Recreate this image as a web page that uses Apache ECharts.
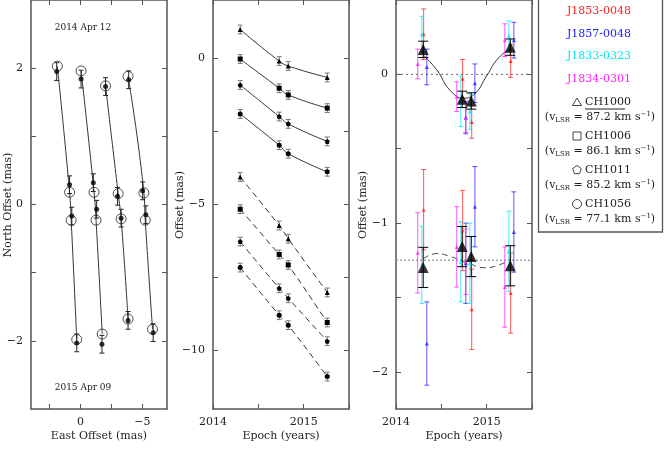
<!DOCTYPE html>
<html><head><meta charset="utf-8">
<script src="https://cdn.jsdelivr.net/npm/echarts@6/dist/echarts.min.js"></script>
<style>html,body{margin:0;padding:0;background:#fff}#c{width:664px;height:453px}</style>
</head><body><div id="c"></div>
<script>
// ---------- data ----------
const epochs = [2014.30, 2014.73, 2014.83, 2015.26];
// left panel: model (open circles) and measured (filled dots), [east, north]
const modelTracks = [
  [[1.87,2.03],[0.88,0.18],[0.75,-0.23],[0.30,-1.98]],
  [[-0.05,1.96],[-1.10,0.18],[-1.26,-0.23],[-1.76,-1.90]],
  [[-2.03,1.74],[-3.05,0.16],[-3.29,-0.21],[-3.85,-1.68]],
  [[-3.85,1.88],[-5.13,0.17],[-5.24,-0.23],[-5.83,-1.83]]
];
const measTracks = [
  [[1.92,1.95],[0.88,0.29],[0.70,-0.17],[0.30,-2.03]],
  [[-0.05,1.84],[-1.04,0.32],[-1.31,-0.07],[-1.74,-2.05]],
  [[-2.03,1.73],[-3.00,0.12],[-3.29,-0.20],[-3.85,-1.70]],
  [[-3.90,1.83],[-5.03,0.20],[-5.29,-0.15],[-5.88,-1.88]]
];
const measErr = 0.13;
// middle panel offsets (mas)
const solidOffsets = [
  [0.99,-0.09,-0.26,-0.65],
  [-0.02,-1.02,-1.25,-1.70],
  [-0.91,-1.99,-2.24,-2.84],
  [-1.90,-2.97,-3.26,-3.88]
];
const dashedOffsets = [
  [-4.06,-5.72,-6.17,-8.01],
  [-5.16,-6.71,-7.07,-9.04],
  [-6.27,-7.87,-8.21,-9.68],
  [-7.16,-8.79,-9.13,-10.89]
];
const midErr = 0.15;
// right panel
const qsoNames = ['J1853-0048','J1857-0048','J1833-0323','J1834-0301'];
const qsoColors = ['#ff2020','#2020ff','#00e8f0','#ff20ff'];
const qsoShift = [0.005, 0.04, -0.015, -0.06];
const qsoTop = [[0.27,-0.03,-0.32,0.09],[0.05,-0.29,-0.06,0.23],[0.27,-0.18,-0.25,0.26],[0.07,-0.15,-0.29,0.23]];
const qsoTopErr = [[0.17,0.13,0.11,0.11],[0.12,0.11,0.13,0.12],[0.12,0.17,0.12,0.10],[0.10,0.10,0.10,0.11]];
const qsoBot = [[-0.91,-1.05,-1.58,-1.47],[-1.81,-1.27,-0.89,-1.06],[-1.28,-1.26,-1.27,-1.19],[-1.20,-1.16,-1.26,-1.43]];
const qsoBotErr = [[0.27,0.27,0.27,0.27],[0.28,0.27,0.27,0.27],[0.26,0.27,0.27,0.27],[0.27,0.27,0.22,0.27]];
const avgTop = [0.168,-0.168,-0.179,0.183], avgTopErr = 0.055;
const avgBot = [-1.298,-1.158,-1.225,-1.287], avgBotErr = 0.135;
const modelTopCurve = [[2014.30,0.13],[2014.45,0.03],[2014.6,-0.11],[2014.75,-0.16],[2014.87,-0.13],[2015.0,-0.01],[2015.13,0.11],[2015.26,0.17]];
const modelBotCurve = [[2014.30,-1.24],[2014.45,-1.205],[2014.6,-1.225],[2014.8,-1.27],[2014.98,-1.30],[2015.12,-1.285],[2015.26,-1.245]];
const legendEntries = [['CH1000','87.2'],['CH1006','86.1'],['CH1011','85.2'],['CH1056','77.1']];

// ---------- helpers ----------
const FONT = 'DejaVu Serif';
function errSeries(data, xi, color, cap, lw, opacity) {
  return {type:'custom', xAxisIndex:xi, yAxisIndex:xi, data:data, z:3, silent:true,
    renderItem:function(p, api){
      const x=api.value(0), y=api.value(1), e=api.value(2);
      const a=api.coord([x,y+e]), b=api.coord([x,y-e]);
      const st={stroke:color, lineWidth:lw, opacity:opacity};
      return {type:'group', children:[
        {type:'line', shape:{x1:a[0],y1:a[1],x2:b[0],y2:b[1]}, style:st},
        {type:'line', shape:{x1:a[0]-cap,y1:a[1],x2:a[0]+cap,y2:a[1]}, style:st},
        {type:'line', shape:{x1:b[0]-cap,y1:b[1],x2:b[0]+cap,y2:b[1]}, style:st}]};
    }};
}
const axLine = {show:true, onZero:false, lineStyle:{color:'#555', width:1.5}};
function mkX(g, min, max, ticks, labels, inverse) {
  const base = {gridIndex:g, type:'value', min:min, max:max, inverse:!!inverse, axisLine:axLine, splitLine:{show:false},
    axisTick:{inside:true, length:5, lineStyle:{color:'#555'}, customValues:ticks}};
  return [Object.assign({}, base, {position:'bottom', axisLabel:{customValues:labels, fontFamily:FONT, fontSize:11, color:'#222', margin:8,
      formatter:v=>String(v).replace('-','\u2212')}}),
    Object.assign({}, base, {position:'top', axisLabel:{show:false}})];
}
function mkY(g, min, max, ticks, labels) {
  const base = {gridIndex:g, type:'value', min:min, max:max, axisLine:axLine, splitLine:{show:false},
    axisTick:{inside:true, length:5, lineStyle:{color:'#555'}, customValues:ticks}};
  return [Object.assign({}, base, {position:'left', axisLabel:{customValues:labels, fontFamily:FONT, fontSize:11, color:'#222', margin:8,
      formatter:v=>String(v).replace('-','\u2212')}}),
    Object.assign({}, base, {position:'right', axisLabel:{show:false}})];
}
const yrTicks=[2014,2014.5,2015,2015.5];
const xAxes = [].concat(
  mkX(0,-7,4,[2.5,0,-2.5,-5],[0,-5],true),
  mkX(1,2014,2015.5,yrTicks,[2014,2015]),
  mkX(2,2014,2015.5,yrTicks,[2014,2015]));
const yAxes = [].concat(
  mkY(0,-3,3,[-2,-1,0,1,2],[-2,0,2]),
  mkY(1,-12,2,[-10,-7.5,-5,-2.5,0],[-10,-5,0]),
  mkY(2,-2.25,0.5,[-2,-1.5,-1,-0.5,0],[-2,-1,0]));

const series = [];
// left panel
modelTracks.forEach(t=>{
  series.push({type:'line', xAxisIndex:0, yAxisIndex:0, data:t, smooth:true, symbol:'none',
    lineStyle:{color:'#333', width:1}, z:2});
  series.push({type:'scatter', xAxisIndex:0, yAxisIndex:0, data:t, symbol:'circle', symbolSize:10,
    itemStyle:{color:'rgba(0,0,0,0)', borderColor:'#222', borderWidth:1}, z:5});
});
measTracks.forEach(t=>{
  series.push(errSeries(t.map(p=>[p[0],p[1],measErr]),0,'#222',2.5,1,1));
  series.push({type:'scatter', xAxisIndex:0, yAxisIndex:0, data:t, symbol:'circle', symbolSize:5, itemStyle:{color:'#000'}, z:4});
});
// middle panel
const mids = ['triangle','rect','path://M0,-1L0.95,-0.31L0.59,0.81L-0.59,0.81L-0.95,-0.31Z','circle'];
[[solidOffsets,'solid'],[dashedOffsets,[6,4]]].forEach(([set,ls])=>{
  set.forEach((vals,i)=>{
    const d = vals.map((v,k)=>[epochs[k],v]);
    series.push(errSeries(d.map(p=>[p[0],p[1],midErr]),2,'#777',2.5,1,1));
    series.push({type:'line', xAxisIndex:2, yAxisIndex:2, data:d, smooth:true, symbol:mids[i], symbolSize:5,
      lineStyle:{color:'#333', width:1, type:ls}, itemStyle:{color:'#000'}, z:4});
  });
});
// right panel
series.push({type:'line', xAxisIndex:4, yAxisIndex:4, data:[[2014,0],[2015.5,0]], symbol:'none', lineStyle:{color:'#666', width:1, type:[2,3]}, z:1});
series.push({type:'line', xAxisIndex:4, yAxisIndex:4, data:[[2014,-1.25],[2015.5,-1.25]], symbol:'none', lineStyle:{color:'#999', width:1.3, type:[2,2]}, z:1});
series.push({type:'line', xAxisIndex:4, yAxisIndex:4, data:modelTopCurve, smooth:true, symbol:'none', lineStyle:{color:'#333', width:1}, z:2});
series.push({type:'line', xAxisIndex:4, yAxisIndex:4, data:modelBotCurve, smooth:true, symbol:'none', lineStyle:{color:'#444', width:1, type:[6,4]}, z:2});
for (let q=0;q<4;q++){
  const dt = epochs.map((e,k)=>[e+qsoShift[q], qsoTop[q][k], qsoTopErr[q][k]]);
  const db = epochs.map((e,k)=>[e+qsoShift[q], qsoBot[q][k], qsoBotErr[q][k]]);
  series.push(errSeries(dt.concat(db),4,qsoColors[q],2.5,1,0.75));
  series.push({type:'scatter', xAxisIndex:4, yAxisIndex:4, data:dt.concat(db).map(p=>[p[0],p[1]]), symbol:'triangle', symbolSize:4, itemStyle:{color:qsoColors[q]}, z:3});
}
const avgD = epochs.map((e,k)=>[e,avgTop[k],avgTopErr]).concat(epochs.map((e,k)=>[e,avgBot[k],avgBotErr]));
series.push(errSeries(avgD,4,'#000',5,1,1));
series.push({type:'scatter', xAxisIndex:4, yAxisIndex:4, data:avgD.map(p=>[p[0],p[1]]), symbol:'triangle', symbolSize:11, itemStyle:{color:'#000'}, z:6});

// graphics: titles, legend
const T = (x,y,text,opt)=>Object.assign({type:'text', x:x, y:y, style:Object.assign({text:text, font:'11px '+FONT, fill:'#222', align:'center', verticalAlign:'middle'}, opt||{})});
const graphic = [
  T(83,28,'2014 Apr 12',{font:'9px '+FONT}),
  T(83,388,'2015 Apr 09',{font:'9px '+FONT}),
  T(99,436,'East Offset (mas)'),
  T(281,436,'Epoch (years)'),
  T(464,436,'Epoch (years)'),
  Object.assign(T(0,0,'North Offset (mas)'),{x:8,y:205,rotation:Math.PI/2}),
  Object.assign(T(0,0,'Offset (mas)'),{x:180,y:205,rotation:Math.PI/2}),
  Object.assign(T(0,0,'Offset (mas)'),{x:363,y:205,rotation:Math.PI/2}),
  {type:'rect', shape:{x:538.5,y:-2,width:124,height:234}, style:{fill:'none', stroke:'#555', lineWidth:1.3}}
];
qsoNames.forEach((n,i)=>graphic.push(T(599,11+i*22.7,n,{fill:qsoColors[i], font:'11px '+FONT})));
const symShapes = [
  {type:'polygon', shape:{points:[[0,-4],[4.5,3.5],[-4.5,3.5]]}},
  {type:'rect', shape:{x:-4,y:-4,width:8,height:8}},
  {type:'polygon', shape:{points:[[0,-4.5],[4.3,-1.4],[2.6,3.6],[-2.6,3.6],[-4.3,-1.4]]}},
  {type:'circle', shape:{cx:0,cy:0,r:4.5}}
];
legendEntries.forEach((e,i)=>{
  const y0 = 102 + i*34;
  const s = Object.assign({}, symShapes[i], {x:577, y:y0, style:{fill:'none', stroke:'#444', lineWidth:1}});
  graphic.push(s);
  graphic.push(T(585,y0,e[0],{align:'left', font:'11px '+FONT}));
  if(i===0) graphic.push({type:'line', shape:{x1:585,y1:y0+7,x2:625,y2:y0+7}, style:{stroke:'#222', lineWidth:1}});
  graphic.push({type:'text', x:600, y:y0+15, style:{
    text:'({v|v}{s|LSR} = '+e[1]+' km s{p|\u22121})', align:'center', verticalAlign:'middle',
    font:'11px '+FONT, fill:'#222',
    rich:{v:{fontFamily:FONT,fontSize:11}, s:{fontFamily:FONT,fontSize:7,verticalAlign:'bottom',padding:[6,0,0,0]}, p:{fontFamily:FONT,fontSize:7,padding:[0,0,6,0]}}}});
});

const chart = echarts.init(document.getElementById('c'), null, {renderer:'canvas'});
chart.setOption({
  animation:false,
  grid:[{left:31,top:0,width:136,height:409},{left:213,top:0,width:136,height:409},{left:396,top:0,width:136,height:409}],
  xAxis:xAxes, yAxis:yAxes, series:series, graphic:graphic
});
</script></body></html>
